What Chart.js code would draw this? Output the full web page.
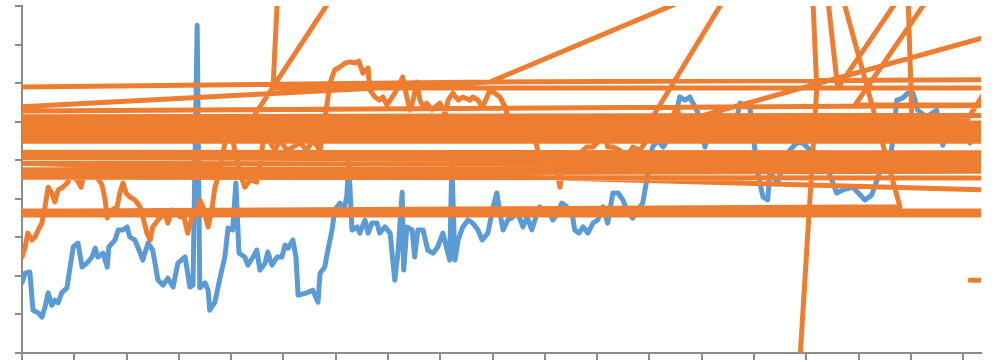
<!DOCTYPE html>
<html>
<head>
<meta charset="utf-8">
<script src="https://cdn.jsdelivr.net/npm/chart.js@4"></script>
<style>
  html, body { margin: 0; padding: 0; background: #fff; }
  #wrap { width: 998px; height: 362px; }
</style>
</head>
<body>
<div id="wrap"><canvas id="chart" width="998" height="362"></canvas></div>
<script>
// axis ranges (x in days, y in index points)
const xRange = [0, 183.4];
const yRange = [0, 90];
const xStep = 10;
const yStep = 10;

// blue series: [x, y]
const bluePoints = [
  [0, 18.2], [0.6, 20.7], [1.5, 21.0], [2.1, 11.1], [3.1, 10.4], [3.8, 9.3], [4.4, 11.9], [5.0, 15.6],
  [5.7, 12.4], [6.3, 13.7], [6.9, 13.0], [7.6, 15.6], [8.6, 16.9], [9.2, 22.3], [9.8, 27.5], [10.7, 28.5],
  [11.5, 22.3], [12.4, 23.3], [13.4, 24.9], [14.0, 27.2], [14.5, 24.9], [15.5, 25.9], [16.3, 22.3], [16.6, 27.5],
  [17.8, 29.3], [18.4, 31.9], [19.3, 31.9], [20.1, 32.7], [20.6, 30.1], [21.6, 29.3], [22.6, 25.9], [23.1, 24.1],
  [24.1, 28.5], [25.0, 26.7], [26.0, 18.9], [27.0, 17.6], [27.9, 19.4], [28.9, 17.1], [29.8, 23.3], [31.2, 24.9],
  [32.1, 17.1], [32.7, 17.6], [33.5, 85.0], [34.0, 16.9], [35.0, 18.2], [35.6, 16.3], [35.9, 11.1], [36.9, 13.2],
  [37.9, 19.7], [38.8, 24.9], [39.4, 32.4], [40.3, 31.9], [40.9, 44.1], [41.5, 25.9], [42.6, 24.9], [43.2, 22.8],
  [44.2, 24.9], [44.9, 26.7], [45.5, 21.5], [46.5, 23.3], [47.0, 26.2], [47.8, 22.8], [48.8, 24.9], [49.7, 24.9],
  [50.3, 28.0], [50.9, 27.2], [51.8, 29.3], [52.4, 24.9], [52.8, 15.0], [54.5, 15.6], [55.6, 16.3], [56.6, 13.2],
  [57.0, 20.7], [57.9, 22.3], [58.5, 26.7], [59.3, 31.9], [59.8, 37.1], [60.8, 38.9], [61.4, 36.3], [62.1, 40.5],
  [62.5, 49.3], [63.1, 31.9], [64.1, 32.7], [64.6, 31.1], [65.6, 34.5], [66.2, 31.1], [66.9, 33.7], [67.9, 33.7],
  [68.4, 31.1], [69.4, 32.7], [70.4, 31.1], [70.9, 24.1], [71.3, 18.9], [71.9, 25.9], [72.7, 41.7], [73.0, 21.5],
  [73.6, 32.7], [74.6, 31.9], [75.1, 24.9], [75.7, 31.9], [76.7, 31.9], [77.6, 26.7], [78.6, 25.9], [79.5, 27.5],
  [80.5, 31.1], [81.3, 26.7], [81.8, 24.1], [82.2, 49.3], [82.8, 24.1], [83.4, 29.3], [84.3, 32.7], [85.3, 34.5],
  [86.2, 33.7], [87.2, 31.9], [88.0, 29.3], [89.1, 31.1], [90.1, 37.9], [90.8, 41.5], [91.4, 36.3], [92.0, 31.9],
  [92.9, 34.5], [93.9, 35.3], [94.8, 36.3], [95.8, 32.7], [96.6, 35.3], [97.5, 31.9], [98.1, 34.5], [99.0, 37.9],
  [99.6, 36.3], [100.6, 37.1], [101.5, 34.5], [102.5, 36.3], [103.2, 38.9], [104.2, 37.9], [105.2, 36.3], [105.7, 31.9],
  [106.5, 31.1], [107.3, 32.7], [108.2, 31.1], [109.2, 33.7], [110.1, 34.5], [111.1, 37.9], [112.0, 33.7], [113.0, 41.5],
  [114.0, 41.5], [114.9, 39.7], [115.9, 36.3], [116.8, 35.0], [117.8, 37.1], [118.7, 38.9], [119.5, 44.9], [120.1, 50.8],
  [120.6, 53.4], [121.6, 55.2], [122.6, 53.4], [123.5, 55.2], [124.3, 58.6], [125.2, 63.0], [125.8, 66.4], [126.8, 65.6],
  [127.7, 66.4], [128.7, 63.8], [129.3, 62.2], [130.0, 57.8], [130.6, 53.4], [131.5, 57.8], [132.5, 60.4], [133.5, 62.2],
  [134.6, 59.1], [135.8, 55.2], [137.3, 64.8], [139.2, 63.8], [140.1, 53.4], [140.7, 46.7], [141.7, 40.5], [142.6, 39.7],
  [143.0, 46.7], [144.5, 44.3], [146.8, 52.6], [148.2, 54.5], [149.3, 54.5], [150.7, 52.6], [152.0, 50.0], [153.9, 48.2],
  [155.8, 41.5], [157.0, 42.3], [158.9, 43.0], [160.3, 41.0], [161.2, 39.7], [162.5, 41.0], [164.0, 46.7], [165.6, 48.2],
  [166.5, 54.5], [167.3, 65.6], [168.4, 66.1], [169.4, 67.4], [170.4, 67.4], [171.3, 63.0], [173.0, 61.2], [174.9, 63.0],
  [176.1, 53.9], [177.1, 58.6], [178.8, 60.4], [179.9, 58.6], [181.3, 54.5], [182.2, 58.6], [183.4, 59.6]
];

// orange series, first part in time order
const orangeTrend = [
  [0, 24.9], [0.6, 27.5], [1.1, 31.1], [1.9, 29.3], [2.5, 30.1], [3.1, 31.9], [3.8, 33.7], [4.4, 37.9],
  [5.0, 43.0], [5.7, 41.5], [6.3, 39.2], [6.9, 42.3], [7.8, 43.0], [8.8, 44.3], [9.4, 48.7], [9.8, 45.6],
  [10.5, 44.9], [11.3, 43.0], [11.7, 45.6], [12.6, 45.6], [13.4, 45.6], [13.8, 48.7], [14.3, 45.6], [15.3, 43.6],
  [15.9, 39.7], [16.3, 35.0], [17.2, 37.1], [18.2, 37.9], [18.7, 41.5], [19.3, 44.1], [19.9, 41.5], [20.6, 40.5],
  [21.6, 39.7], [22.6, 37.9], [23.1, 35.3], [23.9, 31.1], [24.5, 29.3], [25.0, 32.7], [26.0, 34.5], [27.3, 36.3],
  [27.9, 33.7], [28.7, 37.1], [29.3, 36.3], [30.2, 35.3], [30.8, 36.3], [31.7, 31.1], [32.5, 35.3], [33.5, 36.3],
  [34.0, 39.7], [34.6, 37.9], [35.6, 32.7], [36.3, 37.1], [36.9, 43.0], [37.5, 45.6], [37.9, 48.2], [39.2, 57.0],
  [39.8, 58.3], [40.3, 55.2], [41.7, 46.7], [42.6, 43.0], [43.6, 44.9], [44.9, 44.3], [46.1, 54.5], [46.8, 56.0],
  [47.4, 54.7], [48.4, 52.6], [49.3, 55.2], [50.7, 52.6], [51.8, 53.4], [53.2, 54.5], [54.5, 52.6], [55.6, 55.2],
  [57.0, 52.6], [57.9, 60.4], [58.9, 70.0], [59.8, 73.4], [60.8, 74.2], [61.8, 75.2], [62.7, 75.5], [63.7, 75.2],
  [64.4, 75.7], [65.2, 72.6], [66.2, 73.9], [66.5, 68.2], [67.5, 66.4], [68.4, 65.6], [69.0, 66.4], [69.8, 64.3],
  [70.4, 65.6], [71.3, 67.4], [72.3, 70.0], [72.8, 71.6], [73.6, 66.4], [74.2, 63.0], [74.8, 65.6], [75.5, 70.3],
  [76.1, 65.6], [76.7, 63.8], [77.4, 64.8], [78.4, 63.0], [79.0, 63.8], [79.9, 64.8], [80.9, 62.2], [81.5, 65.6],
  [82.4, 67.4], [83.4, 65.6], [84.3, 66.4], [85.7, 65.6], [86.2, 66.4], [87.2, 65.6], [88.1, 63.8], [89.5, 68.2],
  [90.4, 67.4], [91.4, 66.4], [92.4, 63.8], [92.9, 61.2], [93.7, 60.4], [94.3, 59.6], [96.2, 58.6], [98.1, 55.2],
  [98.5, 53.4], [99.0, 50.8], [100.4, 50.0], [101.9, 49.3], [102.9, 43.0], [103.4, 48.2], [104.4, 50.0], [105.4, 50.8],
  [106.7, 51.9], [108.0, 53.4], [109.2, 53.4], [110.5, 55.2], [111.5, 57.3], [112.0, 53.4], [113.0, 53.4], [114.3, 52.6],
  [115.7, 50.8], [116.8, 53.4], [118.2, 52.6], [119.5, 55.2], [120.6, 57.0], [122.0, 58.6], [123.9, 59.6], [125.2, 63.8],
  [125.8, 61.2]
];

// orange series, rest of the rows (out of order, so the line jumps across)
const orangeJumps = [
  [200, 61.7], [-20, 61.2], [-20, 60.4], [200, 59.6], [200, 58.3], [-20, 59.1], [-20, 58.3], [200, 57.8],
  [200, 57.0], [-20, 57.3], [-20, 56.5], [200, 56.2], [200, 55.4], [-20, 55.7], [-20, 54.9], [200, 54.9],
  [200, 51.9], [-20, 52.1], [-20, 51.3], [200, 50.8], [200, 49.8], [-20, 50.8], [-20, 49.3], [200, 48.7],
  [200, 48.0], [-20, 47.5], [-20, 46.4], [200, 47.2], [200, 45.4], [-20, 45.6], [-20, 50.0], [200, 41.7],
  [200, 36.8], [-20, 36.8], [-20, 35.8], [200, 35.8], [200, -12], [-20, -12], [-20, 62.4],
  [89.5, 70.3], [135.8, 96.7], [136.5, 96.7], [120.6, 61.2], [120.1, 57.8], [194.6, 85.8], [200, 71.0],
  [89.5, 70.3], [-20, 68.7], [-20, 100],
  [49.1, 99.3], [48.0, 68.7], [200, 68.7], [200, 100], [62.7, 99.3], [41.7, 56.0], [-20, 55.8], [-20, 62.6],
  [200, 64.3], [200, 100],
  [151.0, 99.3], [152.0, 68.7], [148.3, -12.2], [200, -12.2], [200, 100], [153.5, 99.3], [156.0, 68.7],
  [171.3, 99.3], [155.5, 99.3], [167.9, 37.9], [-20, 36.6], [-20, 100], [177.0, 99.3], [159.3, 64.3],
  [200, 64.3], [200, 100], [169.3, 99.3], [170.2, 59.6], [200, 59.6], [200, 101], [180.7, 60.4],
  [-20, 60.9], [-20, -12], [200, -12], [200, 18.9], [181.3, 18.9]
];

const toXY = (pts) => pts.map(([x, y]) => ({ x, y }));

const axisColor = "#8c8c8c";

new Chart(document.getElementById("chart"), {
  type: "scatter",
  data: {
    datasets: [
      {
        label: "orange",
        data: toXY(orangeTrend.concat(orangeJumps)),
        showLine: true,
        borderColor: "#ED7D31",
        backgroundColor: "#ED7D31",
        borderWidth: 5,
        borderJoinStyle: "round",
        borderCapStyle: "round",
        pointRadius: 0,
        clip: 0,
        order: 0,
      },
      {
        label: "blue",
        data: toXY(bluePoints),
        showLine: true,
        borderColor: "#5B9BD5",
        backgroundColor: "#5B9BD5",
        borderWidth: 5,
        borderJoinStyle: "round",
        borderCapStyle: "round",
        pointRadius: 0,
        clip: 0,
        order: 1,
      },
    ],
  },
  options: {
    responsive: false,
    animation: false,
    layout: { padding: { left: 15, right: 17, top: 6, bottom: 2 } },
    plugins: { legend: { display: false }, tooltip: { enabled: false } },
    scales: {
      x: {
        type: "linear",
        min: xRange[0],
        max: xRange[1],
        z: 1,
        ticks: { display: false, stepSize: xStep, includeBounds: false },
        grid: { drawOnChartArea: false, drawTicks: true, tickLength: 7, color: axisColor, lineWidth: 2 },
        border: { display: true, color: axisColor, width: 2 },
      },
      y: {
        type: "linear",
        min: yRange[0],
        max: yRange[1],
        z: 1,
        ticks: { display: false, stepSize: yStep },
        grid: { drawOnChartArea: false, drawTicks: true, tickLength: 7, color: axisColor, lineWidth: 2 },
        border: { display: true, color: axisColor, width: 2 },
      },
    },
  },
});
</script>
</body>
</html>
